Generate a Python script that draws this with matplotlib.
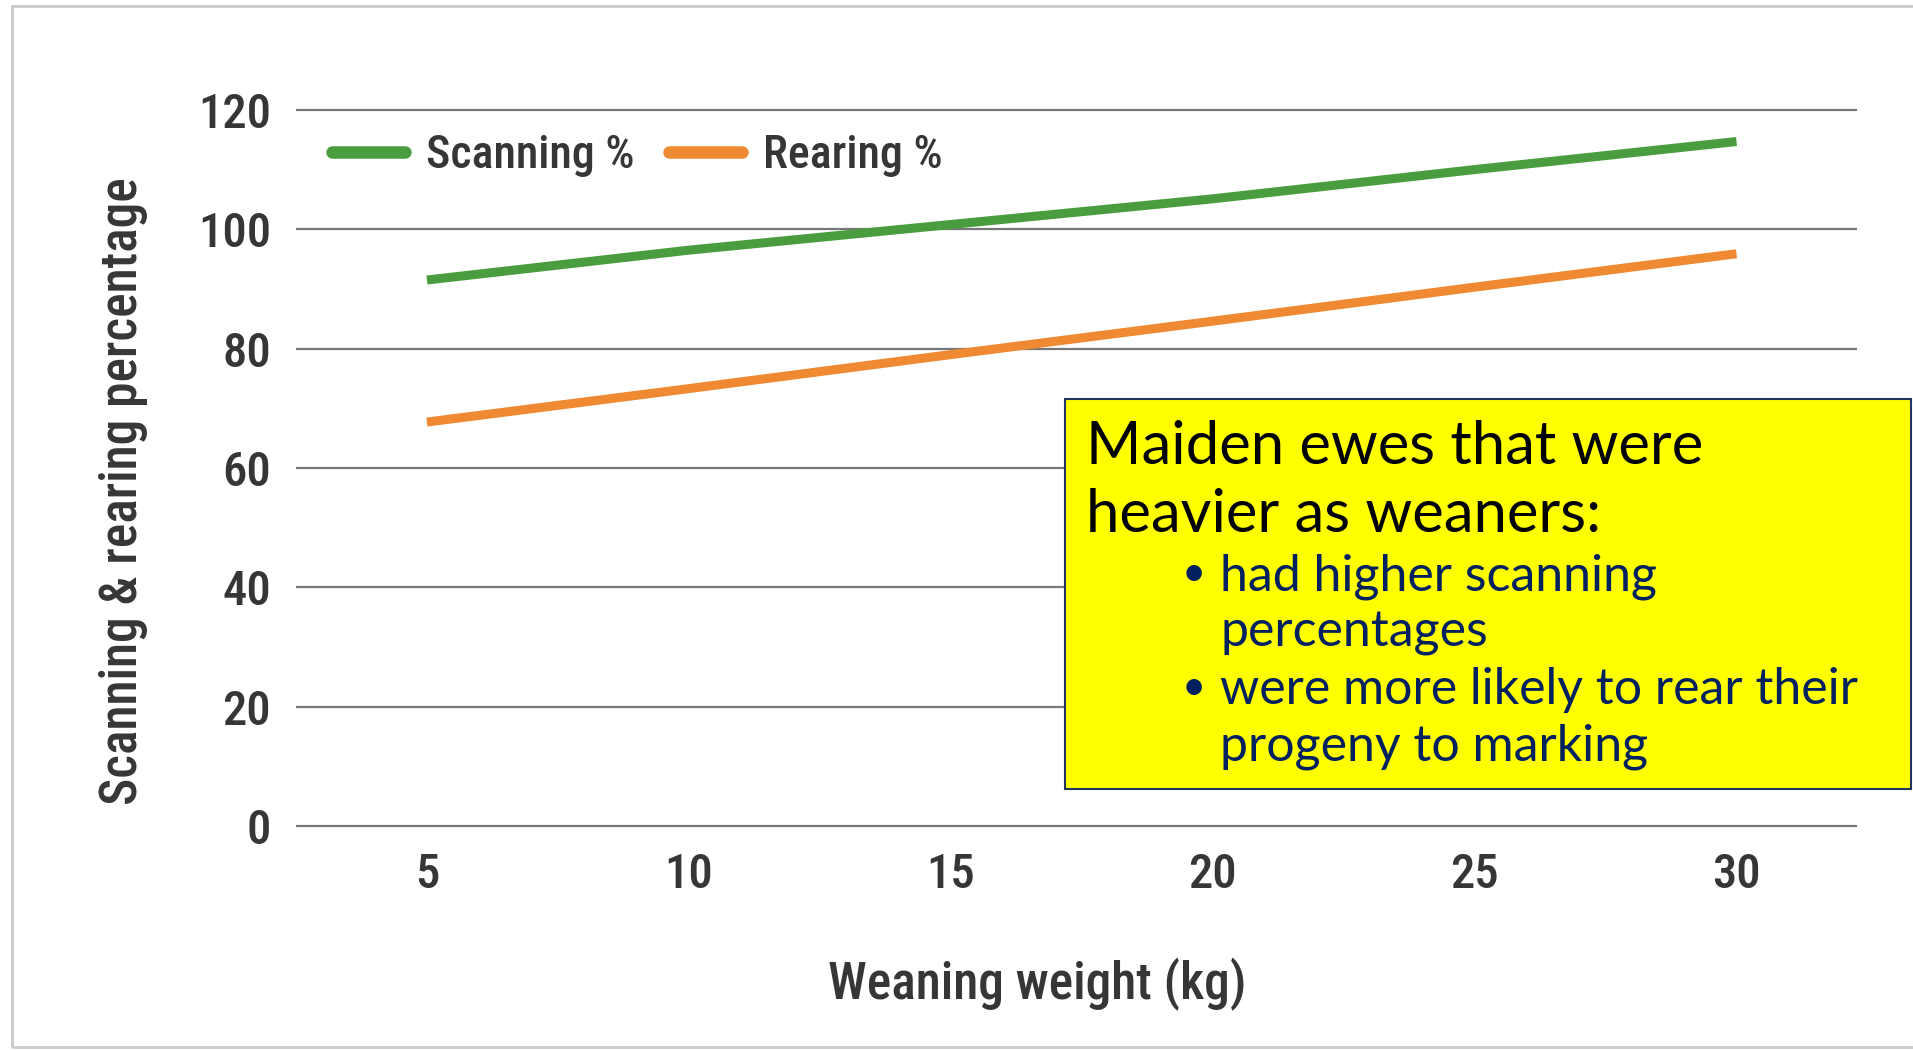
import matplotlib.pyplot as plt
from matplotlib.patches import Rectangle

# weaning weight (kg) vs scanning / rearing percentage
weights = [5, 10, 15, 20, 25, 30]
scanning = [91.5, 96.5, 100.8, 105.1, 110.0, 114.7]
rearing = [67.7, 73.3, 79.0, 84.6, 90.3, 95.9]
y_ticks = [0, 20, 40, 60, 80, 100, 120]

title_lines = ["Maiden ewes that were", "heavier as weaners:"]
bullet_lines = [("•", "had higher scanning"), ("", "percentages"),
                ("•", "were more likely to rear their"), ("", "progeny to marking")]

W, H = 1913, 1051
green = "#4a9d3f"
orange = "#f08a32"
ink = "#363636"
chart_font = ["Roboto Condensed", "Liberation Sans Narrow", "DejaVu Sans Condensed", "DejaVu Sans"]

plt.rcParams["font.family"] = chart_font

fig = plt.figure(figsize=(W / 100, H / 100), dpi=100)
fig.patch.set_facecolor("white")

def px(x, y):
    # pixel position (from top-left) -> figure fraction
    return x / W, 1 - y / H

# light frame round the picture
fig.patches.append(Rectangle(px(12, 1047), (W + 20) / W, (1047 - 6) / H,
                             transform=fig.transFigure, facecolor="none",
                             edgecolor="#c9c9c9", lw=2, zorder=0))

ax = fig.add_axes([296 / W, (H - 844) / H, (1857 - 296) / W, (844 - 92) / H])
ax.plot(weights, scanning, color=green, lw=6.5, solid_capstyle="butt", label="Scanning %")
ax.plot(weights, rearing, color=orange, lw=6.5, solid_capstyle="butt", label="Rearing %")

ax.set_xlim(2.5, 32.3)
ax.set_ylim(-3, 123)
ax.set_yticks(y_ticks)
ax.set_xticks(weights)
ax.grid(axis="y", color="#777777", lw=1.6)
ax.set_axisbelow(True)
for s in ax.spines.values():
    s.set_visible(False)
ax.tick_params(length=0, labelsize=35, labelcolor=ink)
ax.tick_params(axis="y", pad=18)
ax.tick_params(axis="x", pad=6)
for lab in ax.get_xticklabels() + ax.get_yticklabels():
    lab.set_fontweight("medium")

ax.set_xlabel("Weaning weight (kg)", fontsize=37, color=ink, fontweight="medium")
ax.xaxis.set_label_coords(0.475, -0.152)
ax.set_ylabel("Scanning & rearing percentage", fontsize=37, color=ink, fontweight="medium")
ax.yaxis.set_label_coords(-0.095, 0.469)

leg = ax.legend(loc="center left", bbox_to_anchor=(0.023, 0.915), ncol=2, frameon=False,
                fontsize=33, handlelength=1.6, handletextpad=0.45, columnspacing=0.75,
                borderpad=0, borderaxespad=0)
for line in leg.get_lines():
    line.set_linewidth(9)
    line.set_solid_capstyle("round")
for t in leg.get_texts():
    t.set_color(ink)
    t.set_fontweight("medium")

# yellow call-out box
fig.patches.append(Rectangle(px(1065, 789), (1911 - 1065) / W, (789 - 399) / H,
                             transform=fig.transFigure, facecolor="#ffff00",
                             edgecolor="#24365f", lw=1.5, zorder=5))

box_font = ["Lato", "DejaVu Sans"]
for i, line in enumerate(title_lines):
    fig.text(*px(1086, 464 + i * 68), line, fontsize=43, family=box_font,
             color="black", va="baseline", ha="left", zorder=6)
for i, (mark, line) in enumerate(bullet_lines):
    y = 590 + i * 57
    if mark:
        fig.text(*px(1182, y - 4), mark, fontsize=30, family=box_font,
                 color="#002060", va="baseline", ha="left", zorder=6)
    fig.text(*px(1220, y), line, fontsize=36, family=box_font,
             color="#002060", va="baseline", ha="left", zorder=6)

fig.savefig("out.png", dpi=100)
